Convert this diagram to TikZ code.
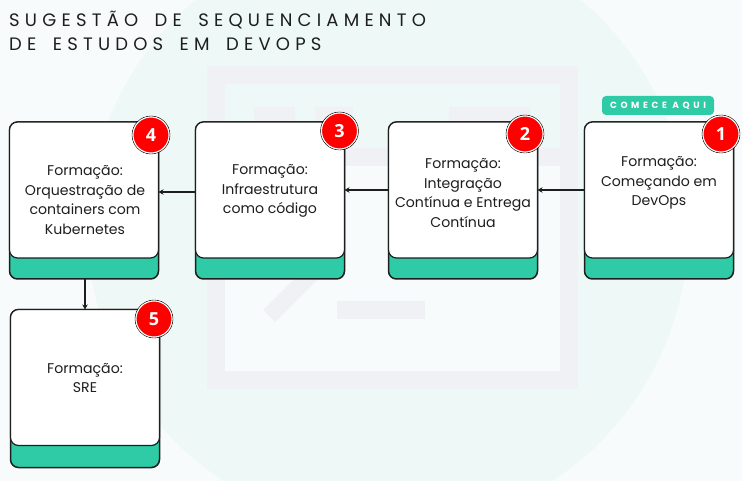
\documentclass[tikz,border=0pt]{standalone}
\usepackage{fontspec}
\setmainfont{Poppins}
\newfontfamily\titlefont[LetterSpace=29,WordSpace=1.64]{Poppins}
\newfontfamily\pillfont[LetterSpace=40]{Poppins}[BoldFont=Poppins Bold]
\newfontfamily\numfont{Open Sans}
\usetikzlibrary{arrows.meta}
\definecolor{bgc}{HTML}{F8FBFC}
\definecolor{circ}{HTML}{EEF8F6}
\definecolor{wm}{HTML}{EFF1F4}
\definecolor{wmin}{HTML}{F7FBFC}
\definecolor{teal}{HTML}{2FCBA7}
\definecolor{ink}{HTML}{1E1E1E}
\tikzset{
  base/.style={draw=ink,line width=1.5pt,rounded corners=8pt,minimum width=149pt,inner sep=0pt,outer sep=0pt},
  outerbox/.style={base,fill=teal,minimum height=157pt},
  innerbox/.style={base,fill=white,minimum height=136pt,line width=1.2pt},
  label/.style={align=center,font=\fontsize{14.1}{19.5}\selectfont,text=ink,inner sep=0pt},
  badge/.style={circle,fill=red,draw=white,line width=1pt,minimum size=36pt,inner sep=0pt,text=white,
    font=\numfont\bfseries\fontsize{18}{18}\selectfont,
    append after command={\pgfextra{\draw[black,line width=.6pt] (\tikzlastnode.center) circle (18.9pt);}}},
  conn/.style={draw=ink,line width=1.1pt,-{Stealth[length=5pt,width=5.5pt]}}
}
\begin{document}
\begin{tikzpicture}[x=1pt,y=-1pt]
\useasboundingbox (0,0) rectangle (742,481);
\fill[bgc] (0,0) rectangle (742,481);
\begin{scope}
\clip (0,0) rectangle (742,481);
\fill[circ] (388,230) circle (300);
\end{scope}
% watermark
\fill[wm] (207,66) rectangle (578,389);
\fill[circ] (225,84) rectangle (560,148);
\fill[wmin] (225,166) rectangle (560,371);
\fill[wm] (254,107) rectangle (295,148);
\fill[wm] (315,107) rectangle (353,148);
\fill[wm] (449,107) rectangle (530,148);
\fill[wm] (337,301) rectangle (425,319);
\fill[wm] (263,310) -- (275,322) -- (335,262) -- (323,250) -- cycle;
% title
\node[anchor=base west,inner sep=0pt,font=\titlefont\fontsize{18}{18}\selectfont,text=ink] (t1) at (9,27) {SUGESTÃO DE SEQUENCIAMENTO};
\node[anchor=base west,inner sep=0pt,font=\titlefont\fontsize{18}{18}\selectfont,text=ink] (t2) at (9,50.5) {DE ESTUDOS EM DEVOPS};
% pill
\node[fill=teal,rounded corners=4pt,minimum width=112pt,minimum height=19pt,inner sep=0pt,text=white,font=\pillfont\bfseries\fontsize{9}{9}\selectfont] (pill) at (658,105.5) {COMECE AQUI};
% boxes
\node[outerbox] (o4) at (84,200.5) {};
\node[innerbox,anchor=north] (w4) at (o4.north) {};
\node[outerbox] (o3) at (270,200.5) {};
\node[innerbox,anchor=north] (w3) at (o3.north) {};
\node[outerbox] (o2) at (463,200.5) {};
\node[innerbox,anchor=north] (w2) at (o2.north) {};
\node[outerbox] (o1) at (659,200.5) {};
\node[innerbox,anchor=north] (w1) at (o1.north) {};
\node[outerbox,minimum height=158pt] (o5) at (85,388.5) {};
\node[innerbox,anchor=north] (w5) at (o5.north) {};
% labels
\node[label] (l4) at (85,200) {Formação:\\Orquestração de\\containers com\\Kubernetes};
\node[label] (l3) at (270,191) {Formação:\\Infraestrutura\\como código};
\node[label] (l2) at (463,193) {Formação:\\Integração\\Contínua e Entrega\\Contínua};
\node[label] (l1) at (659,183) {Formação:\\Começando em\\DevOps};
\node[label] (l5) at (85,378) {Formação:\\SRE};
% connectors
\draw[conn] (w1.west) -- (w2.east);
\draw[conn] (w2.west) -- (w3.east);
\draw[conn] ([yshift=-2pt]w3.west) -- ([yshift=-2pt]w4.east);
\draw[conn] ([xshift=1pt]o4.south) -- (w5.north);
% badges
\node[badge] (b4) at (151,135) {4};
\node[badge] (b3) at (339.5,131) {3};
\node[badge] (b2) at (525,134) {2};
\node[badge] (b1) at (721,134) {1};
\node[badge] (b5) at (154,319) {5};
\end{tikzpicture}
\end{document}
